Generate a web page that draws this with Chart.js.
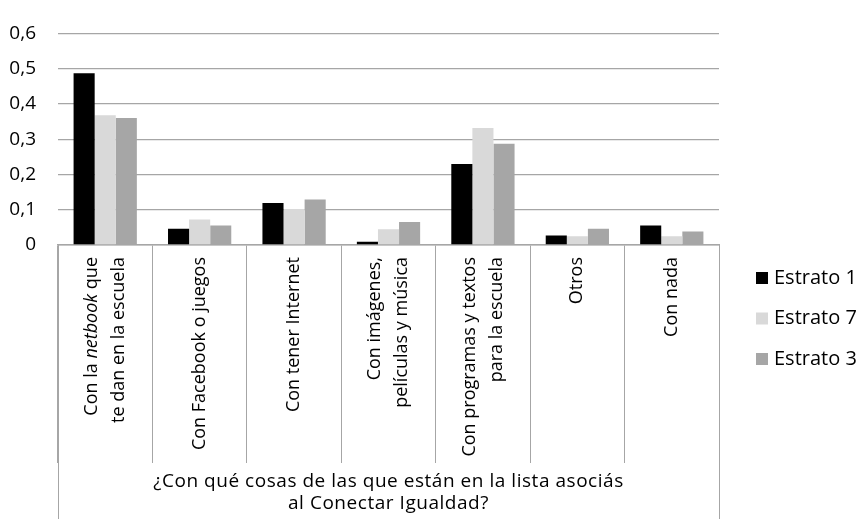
<!DOCTYPE html>
<html>
<head>
<meta charset="utf-8">
<script src="https://cdn.jsdelivr.net/npm/chart.js@4"></script>
<style>
  html, body { margin: 0; padding: 0; background: #fff; }
  #wrap { width: 859px; height: 519px; }
</style>
</head>
<body>
<div id="wrap"><canvas id="estratoChart" width="859" height="519"></canvas></div>
<script>
// categorias (cada una como lineas; la parte en cursiva va marcada con *)
const categories = [
    ['Con la *netbook* que', 'te dan en la escuela'],
    ['Con Facebook o juegos'],
    ['Con tener Internet'],
    ['Con imágenes,', 'películas y música'],
    ['Con programas y textos', 'para la escuela'],
    ['Otros'],
    ['Con nada']
];
const estrato1 = [0.487, 0.046, 0.119, 0.009, 0.230, 0.027, 0.055];
const estrato7 = [0.368, 0.072, 0.102, 0.045, 0.332, 0.025, 0.025];
const estrato3 = [0.360, 0.055, 0.129, 0.065, 0.287, 0.046, 0.038];
const seriesNames = ['Estrato 1', 'Estrato 7', 'Estrato 3'];
const axisTitle = ['¿Con qué cosas de las que están en la lista asociás', 'al Conectar Igualdad?'];

const gridColor = '#a6a6a6';
const font = '"Open Sans", "Liberation Sans", sans-serif';

// etiquetas rotadas, titulo del eje, lineas exteriores y leyenda
const excelAxis = {
    id: 'excelAxis',
    afterDraw(chart) {
        const ctx = chart.ctx;
        const x = chart.scales.x;
        const area = chart.chartArea;
        ctx.save();

        // lineas exteriores hasta abajo
        ctx.strokeStyle = gridColor;
        ctx.lineWidth = 1;
        [area.left, area.right].forEach(px => {
            ctx.beginPath();
            ctx.moveTo(Math.round(px) + 0.5, area.bottom);
            ctx.lineTo(Math.round(px) + 0.5, chart.height);
            ctx.stroke();
        });

        // etiquetas de categoria
        ctx.fillStyle = '#000';
        ctx.textBaseline = 'middle';
        const pitch = 27;
        categories.forEach((lines, i) => {
            const cx = x.getPixelForValue(i);
            lines.forEach((line, j) => {
                const off = (j - (lines.length - 1) / 2) * pitch;
                ctx.save();
                ctx.translate(cx + off, area.bottom + 12);
                ctx.rotate(-Math.PI / 2);
                // dividir en partes normal / cursiva
                const parts = line.split('*');
                let total = 0;
                parts.forEach((p, k) => {
                    ctx.font = (k % 2 ? 'italic ' : '') + '18px ' + font;
                    total += ctx.measureText(p).width;
                });
                let pos = -total;
                ctx.textAlign = 'left';
                parts.forEach((p, k) => {
                    ctx.font = (k % 2 ? 'italic ' : '') + '18px ' + font;
                    ctx.fillText(p, pos, 0);
                    pos += ctx.measureText(p).width;
                });
                ctx.restore();
            });
        });

        // titulo del eje
        ctx.font = '19px ' + font;
        ctx.textAlign = 'center';
        const mid = (area.left + area.right) / 2;
        const w0 = ctx.measureText(axisTitle[0]).width;
        const sp = Math.max(0, (470 - w0) / (axisTitle[0].length - 1));
        ctx.letterSpacing = sp + 'px';
        ctx.fillText(axisTitle[0], mid, 482);
        ctx.fillText(axisTitle[1], mid, 504);
        ctx.letterSpacing = '0px';

        // leyenda
        ctx.font = '20px ' + font;
        ctx.textAlign = 'left';
        chart.data.datasets.forEach((ds, i) => {
            const cy = 278 + i * 40.5;
            ctx.fillStyle = ds.backgroundColor;
            ctx.fillRect(756, cy - 6, 12, 12);
            ctx.fillStyle = '#000';
            ctx.fillText(ds.label, 774, cy);
        });
        ctx.restore();
    }
};

new Chart(document.getElementById('estratoChart').getContext('2d'), {
    type: 'bar',
    data: {
        labels: categories.map(c => c.join(' ').replace(/\*/g, '')),
        datasets: [
            { label: seriesNames[0], data: estrato1, backgroundColor: '#000000' },
            { label: seriesNames[1], data: estrato7, backgroundColor: '#d9d9d9' },
            { label: seriesNames[2], data: estrato3, backgroundColor: '#a6a6a6' }
        ]
    },
    options: {
        responsive: false,
        animation: false,
        layout: { padding: { top: 20, right: 140, bottom: 0, left: 0 } },
        datasets: { bar: { categoryPercentage: 0.67, barPercentage: 1 } },
        plugins: {
            legend: { display: false },
            tooltip: { enabled: false }
        },
        scales: {
            x: {
                offset: true,
                grid: {
                    display: true,
                    offset: true,
                    drawOnChartArea: false,
                    drawTicks: true,
                    tickLength: 218,
                    color: gridColor,
                    lineWidth: 1
                },
                border: { display: true, color: gridColor, width: 1.5 },
                ticks: { display: false },
                afterFit(scale) { scale.height = 274; }
            },
            y: {
                min: 0,
                max: 0.6,
                grid: { color: gridColor, lineWidth: 1.3, drawTicks: false },
                border: { display: false },
                ticks: {
                    stepSize: 0.1,
                    padding: 22,
                    color: '#000',
                    font: { family: font, size: 19 },
                    callback: v => v === 0 ? '0' : v.toFixed(1).replace('.', ',')
                },
                afterFit(scale) { scale.width = 58; }
            }
        }
    },
    plugins: [excelAxis]
});
</script>
</body>
</html>
